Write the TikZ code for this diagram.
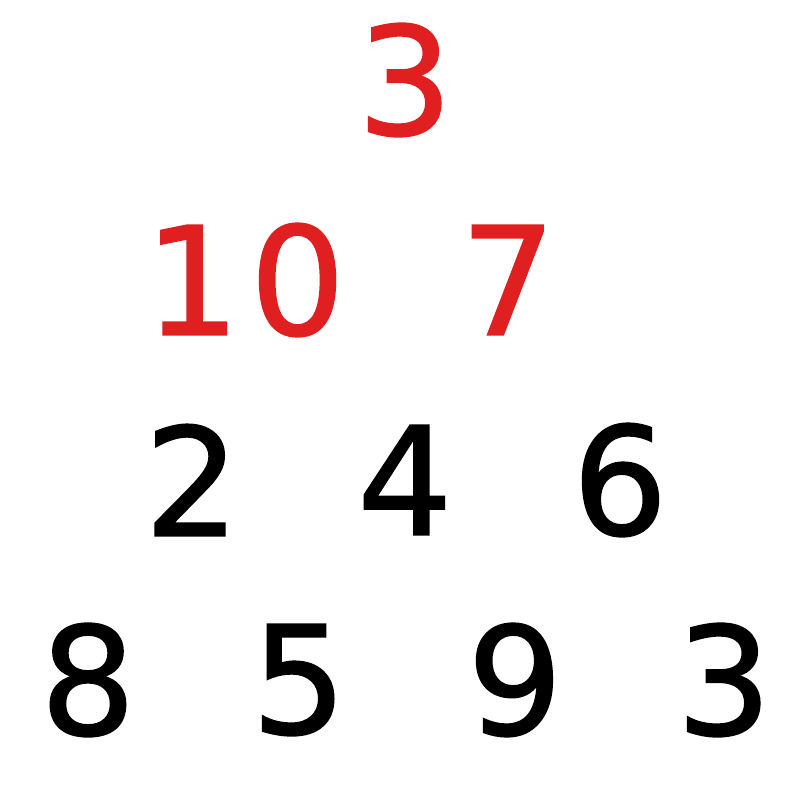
\documentclass[tikz,border=0pt]{standalone}
\usepackage{fontspec}
\newfontfamily\numfont[FakeBold=1.2]{DejaVu Sans}
\definecolor{numred}{RGB}{224,32,32}
\tikzset{
  num/.style={inner sep=0pt, font=\numfont\fontsize{150}{160}\selectfont, text=black},
  rednum/.style={num, text=numred}
}
\begin{document}
\begin{tikzpicture}[x=1pt,y=-1pt]
\useasboundingbox (0,0) rectangle (800,793);
\node[rednum] (a) at (405,80) {3};
\node[rednum] (b1) at (245,280) {1\kern10pt 0};
\node[rednum] (b2) at (508,280) {7};
\node[num] (c1) at (192,480) {2};
\node[num] (c2) at (405,480) {4};
\node[num] (c3) at (620,480) {6};
\node[num] (d1) at (88,680) {8};
\node[num] (d2) at (299,680) {5};
\node[num] (d3) at (515,680) {9};
\node[num] (d4) at (724,680) {3};
\end{tikzpicture}
\end{document}
